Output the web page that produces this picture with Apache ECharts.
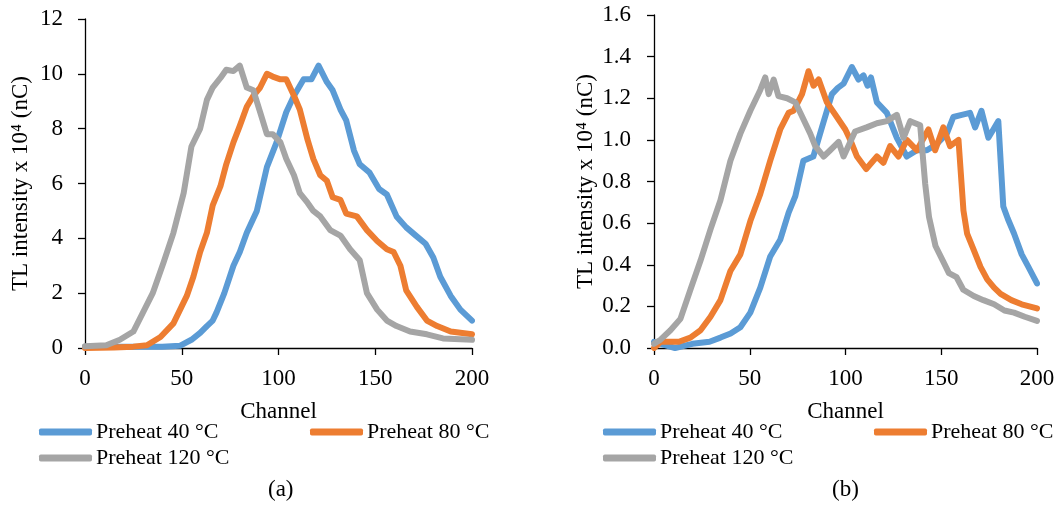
<!DOCTYPE html>
<html>
<head>
<meta charset="utf-8">
<script src="https://cdn.jsdelivr.net/npm/echarts@6/dist/echarts.min.js"></script>
<style>
  html, body { margin: 0; padding: 0; background: #fff; }
  #chart { width: 1058px; height: 510px; }
</style>
</head>
<body>
<div id="chart"></div>
<script>
// (a) 通道 / 强度
const chA40 = [0, 20, 40, 49, 55, 59.5, 63, 66, 68, 72, 76.7, 80, 83.6, 88.8, 94, 99, 104, 108, 113, 117, 120.7, 125, 128, 132, 135, 139, 142, 147, 152, 156, 161, 166, 171, 176, 180, 183.6, 189, 194, 200];
const valA40 = [0.05, 0.05, 0.05, 0.08, 0.3, 0.55, 0.8, 1.0, 1.3, 2.0, 3.0, 3.5, 4.2, 5.0, 6.6, 7.5, 8.6, 9.2, 9.8, 9.8, 10.3, 9.7, 9.4, 8.7, 8.3, 7.2, 6.7, 6.4, 5.8, 5.6, 4.8, 4.4, 4.1, 3.8, 3.3, 2.6, 1.9, 1.4, 1.0];
const chA80 = [0, 15, 25, 32, 39, 45.7, 52.6, 56, 59.5, 63, 66, 70, 73, 76.7, 80, 83.6, 87, 90.5, 94, 97, 101, 104, 108, 111, 115, 118, 121.6, 125, 128, 132, 135, 140.5, 145.7, 151, 156, 159.5, 163, 166, 171.5, 176.7, 182, 189, 200];
const valA80 = [0.0, 0.02, 0.05, 0.1, 0.4, 0.9, 1.9, 2.6, 3.5, 4.2, 5.2, 5.9, 6.7, 7.5, 8.1, 8.8, 9.2, 9.5, 10.0, 9.9, 9.8, 9.8, 9.2, 8.7, 7.6, 6.9, 6.3, 6.1, 5.5, 5.4, 4.9, 4.8, 4.3, 3.9, 3.6, 3.5, 3.0, 2.1, 1.5, 1.0, 0.8, 0.6, 0.5];
const chA120 = [0, 11, 18, 25, 30, 35, 40.5, 45.7, 51, 55, 59.5, 63, 66, 70, 73, 76.7, 80, 83.6, 87, 90.5, 94, 97, 101, 104, 108, 111, 115, 118, 121.6, 126.7, 132, 137, 142, 145.7, 151, 156, 161, 168, 176.7, 185, 200];
const valA120 = [0.06, 0.1, 0.3, 0.6, 1.3, 2.0, 3.1, 4.2, 5.65, 7.35, 8.0, 9.05, 9.5, 9.85, 10.15, 10.1, 10.3, 9.5, 9.4, 8.6, 7.8, 7.8, 7.5, 6.9, 6.3, 5.65, 5.3, 5.0, 4.8, 4.3, 4.1, 3.6, 3.2, 2.0, 1.4, 1.0, 0.8, 0.6, 0.5, 0.35, 0.3];

// (b)
const chB40 = [0, 11, 20, 29, 34.7, 40, 45.1, 50.3, 55.5, 60.7, 65.9, 70.3, 73.8, 78, 83.2, 87.7, 92.9, 96, 99, 103.3, 106.8, 109.4, 111.5, 113.3, 116.4, 121.6, 126.8, 132, 137.3, 142.5, 147.7, 152.9, 156.3, 160.7, 165, 167.7, 171, 174.6, 177.2, 179.8, 182.4, 184.8, 188, 192, 195.5, 200];
const valB40 = [0.03, 0.0, 0.02, 0.03, 0.05, 0.07, 0.1, 0.17, 0.29, 0.44, 0.52, 0.65, 0.73, 0.9, 0.92, 1.06, 1.22, 1.25, 1.27, 1.35, 1.29, 1.31, 1.26, 1.3, 1.18, 1.13, 1.01, 0.92, 0.95, 0.95, 0.98, 1.03, 1.11, 1.12, 1.13, 1.06, 1.14, 1.01, 1.05, 1.09, 0.68, 0.62, 0.55, 0.45, 0.39, 0.31];
const chB80 = [0, 3.4, 13, 19, 24.3, 29.5, 34.7, 39.9, 45.1, 50.3, 55.5, 60.7, 65.9, 70.3, 72.9, 77.3, 80.7, 83.3, 86, 90.3, 95.5, 99.9, 102.5, 106, 110.8, 116.4, 119.8, 123.3, 127.7, 132, 137.3, 143.3, 146.8, 151.1, 154.6, 159, 161.6, 163.5, 167, 170.5, 174, 177.6, 181, 186.6, 192, 200];
const valB80 = [0.0, 0.03, 0.03, 0.05, 0.085, 0.15, 0.23, 0.37, 0.45, 0.61, 0.74, 0.9, 1.05, 1.13, 1.14, 1.22, 1.33, 1.26, 1.29, 1.18, 1.11, 1.05, 1.0, 0.92, 0.86, 0.92, 0.89, 0.97, 0.92, 1.0, 0.95, 1.05, 0.95, 1.06, 0.97, 1.0, 0.66, 0.55, 0.47, 0.39, 0.33, 0.29, 0.26, 0.23, 0.21, 0.19];
const chB120 = [0, 3.4, 8.6, 13.8, 19, 24.3, 29.5, 34.7, 39.9, 45.1, 50.3, 55.5, 58.1, 59.9, 62.5, 65, 69.5, 73.8, 76.4, 81.6, 84.2, 88.6, 92, 96.4, 99, 105, 111, 116.4, 121.6, 126.8, 130.3, 133.8, 139, 141.6, 143.6, 147, 150.8, 154, 158, 161.5, 167, 172, 177.6, 183, 188, 193.6, 200];
const valB120 = [0.02, 0.04, 0.085, 0.14, 0.28, 0.42, 0.57, 0.71, 0.9, 1.03, 1.14, 1.24, 1.3, 1.22, 1.29, 1.21, 1.2, 1.18, 1.13, 1.03, 0.97, 0.92, 0.95, 0.99, 0.92, 1.04, 1.06, 1.08, 1.09, 1.12, 1.01, 1.09, 1.07, 0.79, 0.63, 0.49, 0.42, 0.36, 0.34, 0.28, 0.25, 0.23, 0.21, 0.18, 0.17, 0.15, 0.13];

const names = ["Preheat 40 °C", "Preheat 80 °C", "Preheat 120 °C"];
const colors = ["#5B9BD5", "#ED7D31", "#A5A5A5"];
const xTicks = [0, 50, 100, 150, 200];

const fontName = "Liberation Serif";
var chart = echarts.init(document.getElementById("chart"));

function pairs(xs, ys) {
  return xs.map(function (x, i) { return [x, ys[i]]; });
}

function xAxisOf(idx) {
  return {
    gridIndex: idx,
    type: "value",
    min: xTicks[0],
    max: xTicks[xTicks.length - 1],
    interval: 50,
    name: "Channel",
    nameLocation: "middle",
    nameGap: 52,
    nameTextStyle: { fontFamily: fontName, fontSize: 23, color: "#000" },
    axisLine: { show: true, lineStyle: { color: "#000", width: 1.3 } },
    axisTick: { show: true, length: 7, lineStyle: { color: "#000", width: 1.3 } },
    axisLabel: { margin: 19, fontFamily: fontName, fontSize: 23, color: "#000" },
    splitLine: { show: false },
  };
}

function yAxisOf(idx, max, interval, gap, margin, digits) {
  return {
    gridIndex: idx,
    type: "value",
    min: 0,
    max: max,
    interval: interval,
    name: "TL intensity x 10⁴ (nC)",
    nameLocation: "middle",
    nameGap: gap,
    nameTextStyle: { fontFamily: fontName, fontSize: 23, color: "#000" },
    axisLine: { show: true, lineStyle: { color: "#000", width: 1.3 } },
    axisTick: { show: true, length: 7, lineStyle: { color: "#000", width: 1.3 } },
    axisLabel: {
      margin: margin, fontFamily: fontName, fontSize: 23, color: "#000",
      formatter: function (v) { return v.toFixed(digits); },
    },
    splitLine: { show: false },
  };
}

function lineSeries(i, gi, data) {
  return {
    name: names[i],
    type: "line",
    xAxisIndex: gi,
    yAxisIndex: gi,
    data: data,
    showSymbol: false,
    symbol: "none",
    animation: false,
    lineStyle: { color: colors[i], width: 6, cap: "round", join: "round" },
    itemStyle: { color: colors[i] },
  };
}

function legendOf(i, left, top) {
  return {
    data: [names[i]],
    left: left,
    top: top,
    icon: "roundRect",
    itemWidth: 53,
    itemHeight: 7,
    itemGap: 0,
    padding: 0,
    selectedMode: false,
    textStyle: { fontFamily: fontName, fontSize: 22, color: "#000", padding: [0, 0, 0, -1] },
  };
}

var option = {
  backgroundColor: "#fff",
  textStyle: { fontFamily: fontName, color: "#000" },
  grid: [
    { left: 85, right: 586, top: 19, bottom: 162 },
    { left: 654, right: 21, top: 15, bottom: 162 },
  ],
  xAxis: [xAxisOf(0), xAxisOf(1)],
  yAxis: [
    yAxisOf(0, 12, 2, 53, 22, 0),
    yAxisOf(1, 1.6, 0.2, 57, 23, 1),
  ],
  legend: [
    legendOf(0, 39, 421),
    legendOf(1, 310, 421),
    legendOf(2, 39, 447),
    legendOf(0, 603, 421),
    legendOf(1, 874, 421),
    legendOf(2, 603, 447),
  ],
  graphic: [
    { type: "text", left: 282 - 14, top: 478, style: { text: "(a)", font: "23px 'Liberation Serif'", fill: "#000" } },
    { type: "text", left: 846 - 14, top: 478, style: { text: "(b)", font: "23px 'Liberation Serif'", fill: "#000" } },
  ],
  series: [
    lineSeries(0, 0, pairs(chA40, valA40)),
    lineSeries(1, 0, pairs(chA80, valA80)),
    lineSeries(2, 0, pairs(chA120, valA120)),
    lineSeries(0, 1, pairs(chB40, valB40)),
    lineSeries(1, 1, pairs(chB80, valB80)),
    lineSeries(2, 1, pairs(chB120, valB120)),
  ],
};

chart.setOption(option);
</script>
</body>
</html>
